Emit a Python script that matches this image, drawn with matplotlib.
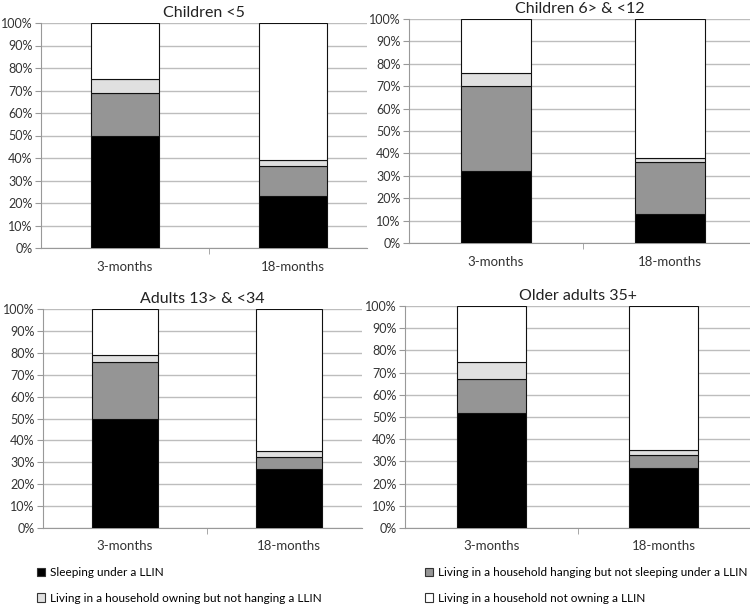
import matplotlib
matplotlib.use('Agg')
import matplotlib.pyplot as plt
from matplotlib.patches import Patch
import numpy as np

plt.rcParams['font.family'] = ['Lato', 'DejaVu Sans']

periods = ['3-months', '18-months']
groups = ['Children <5', 'Children 6> & <12', 'Adults 13> & <34', 'Older adults 35+']
labels = ['Sleeping under a LLIN',
          'Living in a household hanging but not sleeping under a LLIN',
          'Living in a household owning but not hanging a LLIN',
          'Living in a household not owning a LLIN']
colors = ['#000000', '#959595', '#e0e0e0', '#ffffff']

# percentages per group: [3-months, 18-months]
sleeping = [[50, 23], [32, 13], [50, 27], [52, 27]]
hanging = [[19, 13.5], [38, 23], [26, 5.5], [15, 6]]
owning = [[6, 2.5], [6, 2], [3, 2.5], [8, 2]]
not_owning = [[25, 61], [24, 62], [21, 65], [25, 65]]

fig = plt.figure(figsize=(7.5, 6.1), dpi=100)

# axes boxes in pixels: left, top(0%), right, top(100%)
boxes = [(41, 248, 367, 23), (409, 243, 750, 19),
         (43, 528, 362, 309), (405, 528, 750, 306)]
xmax = [1.44, 1.46, 1.445, 1.5]
txt = '#333333'

for i, g in enumerate(groups):
    l, b, r, t = boxes[i]
    ax = fig.add_axes([l / 750, (610 - b) / 610, (r - l) / 750, (b - t) / 610])
    x = np.arange(len(periods))
    bottom = np.zeros(len(periods))
    for vals, c in zip([sleeping, hanging, owning, not_owning], colors):
        v = np.array(vals[i], dtype=float)
        ax.bar(x, v, 0.4, bottom=bottom, color=c, edgecolor='#111111',
               linewidth=0.8, zorder=3)
        bottom += v
    ax.set_xlim(-0.5, xmax[i])
    ax.set_ylim(0, 100)
    ax.set_yticks(range(0, 101, 10))
    ax.set_yticklabels([f'{v}%' for v in range(0, 101, 10)], fontsize=9, color=txt)
    ax.yaxis.grid(True, color='#bdbdbd', linewidth=1, zorder=0)
    ax.set_xticks(x)
    ax.set_xticklabels(periods, fontsize=9.5, color=txt)
    ax.tick_params(axis='x', length=0, pad=9)
    ax.set_xticks([0.5], minor=True)
    ax.tick_params(axis='x', which='minor', length=4, color='#999999', direction='out')
    ax.tick_params(axis='y', length=4, color='#999999', pad=2)
    for s in ['top', 'right']:
        ax.spines[s].set_visible(False)
    for s in ['left', 'bottom']:
        ax.spines[s].set_color('#999999')
    ax.set_title(g, fontsize=11.5, color='#222222', pad=4)

handles = [Patch(facecolor=c, edgecolor='#333333', linewidth=0.8) for c in colors]
leg_kw = dict(frameon=False, fontsize=8.5, handlelength=0.7, handleheight=0.7,
              handletextpad=0.4, labelspacing=1.25, borderaxespad=0, borderpad=0)
fig.legend([handles[0], handles[2]], [labels[0], labels[2]],
           loc='upper left', bbox_to_anchor=(37 / 750, 1 - 567 / 610), **leg_kw)
fig.legend([handles[1], handles[3]], [labels[1], labels[3]],
           loc='upper left', bbox_to_anchor=(425 / 750, 1 - 567 / 610), **leg_kw)

fig.savefig('out.png', dpi=100)
